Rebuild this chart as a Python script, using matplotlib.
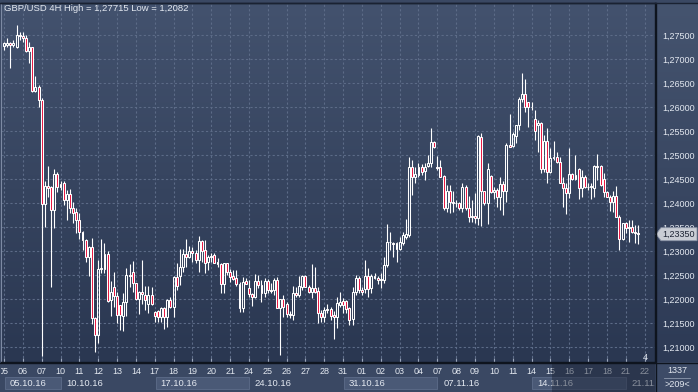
import numpy as np
import matplotlib
matplotlib.use("Agg")
import matplotlib.pyplot as plt
from matplotlib.patches import Rectangle, Polygon
from matplotlib.lines import Line2D
from matplotlib.colors import LinearSegmentedColormap
from matplotlib.transforms import blended_transform_factory

# GBP/USD 4H bars, six bars per trading day, first bar on 05.10.16
opens = [
    1.2727, 1.2729, 1.2733, 1.2729, 1.2726, 1.2750, 1.2747, 1.2743, 1.2717, 1.2724,
    1.2634, 1.2642, 1.2615, 1.2397, 1.2435, 1.2434, 1.2385, 1.2460, 1.2434, 1.2441,
    1.2406, 1.2419, 1.2389, 1.2382, 1.2365, 1.2339, 1.2323, 1.2287, 1.2308, 1.2160,
    1.2125, 1.2262, 1.2262, 1.2293, 1.2198, 1.2224, 1.2206, 1.2188, 1.2165, 1.2194,
    1.2250, 1.2257, 1.2233, 1.2199, 1.2215, 1.2208, 1.2190, 1.2208, 1.2172, 1.2174,
    1.2163, 1.2181, 1.2163, 1.2198, 1.2184, 1.2245, 1.2247, 1.2267, 1.2293, 1.2288,
    1.2299, 1.2295, 1.2281, 1.2320, 1.2302, 1.2278, 1.2288, 1.2292, 1.2278, 1.2272,
    1.2231, 1.2274, 1.2257, 1.2247, 1.2243, 1.2231, 1.2181, 1.2238, 1.2222, 1.2211,
    1.2204, 1.2238, 1.2229, 1.2212, 1.2238, 1.2219, 1.2219, 1.2240, 1.2181, 1.2200,
    1.2190, 1.2169, 1.2166, 1.2212, 1.2208, 1.2226, 1.2248, 1.2226, 1.2215, 1.2222,
    1.2216, 1.2170, 1.2163, 1.2177, 1.2179, 1.2167, 1.2162, 1.2188, 1.2195, 1.2195,
    1.2181, 1.2158, 1.2215, 1.2243, 1.2219, 1.2220, 1.2247, 1.2222, 1.2247, 1.2243,
    1.2240, 1.2240, 1.2271, 1.2318, 1.2317, 1.2317, 1.2305, 1.2317, 1.2330, 1.2333,
    1.2474, 1.2455, 1.2458, 1.2476, 1.2467, 1.2477, 1.2483, 1.2528, 1.2476, 1.2476,
    1.2456, 1.2389, 1.2424, 1.2403, 1.2401, 1.2399, 1.2389, 1.2434, 1.2389, 1.2371,
    1.2373, 1.2368, 1.2537, 1.2424, 1.2401, 1.2456, 1.2422, 1.2427, 1.2412, 1.2440,
    1.2424, 1.2521, 1.2519, 1.2540, 1.2562, 1.2616, 1.2628, 1.2611, 1.2599, 1.2576,
    1.2562, 1.2566, 1.2470, 1.2529, 1.2465, 1.2493, 1.2496, 1.2485, 1.2442, 1.2431,
    1.2420, 1.2460, 1.2451, 1.2470, 1.2431, 1.2454, 1.2434, 1.2433, 1.2431, 1.2477,
    1.2477, 1.2451, 1.2422, 1.2413, 1.2403, 1.2415, 1.2371, 1.2326, 1.2358, 1.2347,
    1.2351, 1.2340, 1.2337,
]
highs = [
    1.2736, 1.2743, 1.2736, 1.2740, 1.27715, 1.2757, 1.2757, 1.2750, 1.2736, 1.2726,
    1.2665, 1.2646, 1.2618, 1.2446, 1.2477, 1.2436, 1.2470, 1.2465, 1.2445, 1.2445,
    1.2427, 1.2430, 1.2403, 1.2389, 1.2379, 1.2341, 1.2326, 1.2310, 1.2328, 1.2163,
    1.2281, 1.2324, 1.2317, 1.2299, 1.2238, 1.2257, 1.2215, 1.2188, 1.2213, 1.2265,
    1.2273, 1.2279, 1.2234, 1.2217, 1.2281, 1.2227, 1.2227, 1.2226, 1.2176, 1.2177,
    1.2184, 1.2184, 1.2199, 1.2204, 1.2247, 1.2274, 1.2304, 1.2304, 1.2325, 1.2311,
    1.2309, 1.2302, 1.2331, 1.2323, 1.2323, 1.2292, 1.2295, 1.2296, 1.2285, 1.2274,
    1.2276, 1.2276, 1.2262, 1.2260, 1.2260, 1.2236, 1.2245, 1.2243, 1.2240, 1.2213,
    1.2252, 1.2250, 1.2240, 1.2243, 1.2241, 1.2233, 1.2243, 1.2245, 1.2201, 1.2208,
    1.2193, 1.2174, 1.2227, 1.2226, 1.2247, 1.2250, 1.2250, 1.2229, 1.2273, 1.2267,
    1.2226, 1.2177, 1.2183, 1.2190, 1.2184, 1.2176, 1.2205, 1.2215, 1.2202, 1.2198,
    1.2184, 1.2226, 1.2250, 1.2247, 1.2226, 1.2281, 1.2264, 1.2252, 1.2255, 1.2247,
    1.2254, 1.2288, 1.2356, 1.2340, 1.2319, 1.2319, 1.2330, 1.2340, 1.2366, 1.2495,
    1.2490, 1.2474, 1.2483, 1.2481, 1.2483, 1.2501, 1.2556, 1.2530, 1.2498, 1.2490,
    1.2458, 1.2438, 1.2438, 1.2424, 1.2406, 1.2403, 1.2441, 1.2438, 1.2415, 1.2406,
    1.2420, 1.2542, 1.2545, 1.2424, 1.2483, 1.2458, 1.2434, 1.2431, 1.2455, 1.2445,
    1.2525, 1.2585, 1.2547, 1.2562, 1.2620, 1.2671, 1.2658, 1.2611, 1.2611, 1.2594,
    1.2573, 1.2569, 1.2542, 1.2556, 1.2514, 1.2529, 1.2507, 1.2496, 1.2455, 1.2441,
    1.2514, 1.2462, 1.2501, 1.2472, 1.2469, 1.2458, 1.2441, 1.2441, 1.2479, 1.2503,
    1.2479, 1.2462, 1.2424, 1.2417, 1.2426, 1.2435, 1.2375, 1.2358, 1.2361, 1.2364,
    1.2364, 1.2354, 1.2354,
]
lows = [
    1.2719, 1.2726, 1.2682, 1.2726, 1.2723, 1.2740, 1.2736, 1.2715, 1.2692, 1.2632,
    1.2632, 1.2601, 1.2082, 1.2351, 1.2413, 1.2226, 1.2347, 1.2422, 1.2427, 1.2396,
    1.2365, 1.2379, 1.2358, 1.2337, 1.2326, 1.2302, 1.2278, 1.2248, 1.2148, 1.2090,
    1.2108, 1.2254, 1.2254, 1.2193, 1.2165, 1.2184, 1.2149, 1.2135, 1.2134, 1.2165,
    1.2226, 1.2215, 1.2198, 1.2169, 1.2190, 1.2177, 1.2170, 1.2188, 1.2153, 1.2153,
    1.2153, 1.2137, 1.2142, 1.2182, 1.2163, 1.2219, 1.2229, 1.2257, 1.2266, 1.2286,
    1.2278, 1.2274, 1.2257, 1.2278, 1.2254, 1.2261, 1.2278, 1.2274, 1.2267, 1.2213,
    1.2212, 1.2250, 1.2236, 1.2240, 1.2227, 1.2172, 1.2172, 1.2231, 1.2204, 1.2186,
    1.2203, 1.2222, 1.2194, 1.2204, 1.2212, 1.2212, 1.2208, 1.2181, 1.2083, 1.2163,
    1.2163, 1.2161, 1.2156, 1.2205, 1.2205, 1.2219, 1.2224, 1.2212, 1.2202, 1.2212,
    1.2149, 1.2153, 1.2153, 1.2170, 1.2156, 1.2116, 1.2139, 1.2184, 1.2170, 1.2170,
    1.2146, 1.2146, 1.2209, 1.2212, 1.2209, 1.2212, 1.2205, 1.2212, 1.2241, 1.2232,
    1.2222, 1.2233, 1.2267, 1.2302, 1.2288, 1.2278, 1.2302, 1.2312, 1.2326, 1.2330,
    1.2417, 1.2442, 1.2455, 1.2458, 1.2448, 1.2476, 1.2476, 1.2514, 1.2469, 1.2454,
    1.2385, 1.2382, 1.2380, 1.2382, 1.2392, 1.2385, 1.2382, 1.2385, 1.2361, 1.2361,
    1.2358, 1.2354, 1.2352, 1.2396, 1.2356, 1.2420, 1.2408, 1.2392, 1.2385, 1.2375,
    1.2403, 1.2516, 1.2516, 1.2525, 1.2552, 1.2611, 1.2590, 1.2559, 1.2594, 1.2531,
    1.2507, 1.2462, 1.2465, 1.2442, 1.2462, 1.2490, 1.2483, 1.2441, 1.2392, 1.2378,
    1.2410, 1.2448, 1.2448, 1.2408, 1.2413, 1.2431, 1.2427, 1.2408, 1.2412, 1.2448,
    1.2435, 1.2413, 1.2412, 1.2384, 1.2382, 1.2370, 1.2302, 1.2323, 1.2337, 1.2319,
    1.2337, 1.2316, 1.2314,
]
closes = [
    1.2733, 1.2733, 1.2729, 1.2734, 1.2750, 1.2747, 1.2743, 1.2717, 1.2724, 1.2634,
    1.2642, 1.2615, 1.2397, 1.2435, 1.2432, 1.2385, 1.2460, 1.2434, 1.2439, 1.2406,
    1.2419, 1.2389, 1.2380, 1.2365, 1.2339, 1.2323, 1.2287, 1.2308, 1.2160, 1.2125,
    1.2262, 1.2265, 1.2293, 1.2195, 1.2215, 1.2206, 1.2167, 1.2167, 1.2194, 1.2250,
    1.2247, 1.2233, 1.2199, 1.2215, 1.2210, 1.2198, 1.2208, 1.2190, 1.2165, 1.2163,
    1.2181, 1.2163, 1.2198, 1.2184, 1.2245, 1.2227, 1.2267, 1.2293, 1.2288, 1.2300,
    1.2295, 1.2281, 1.2320, 1.2299, 1.2274, 1.2288, 1.2290, 1.2276, 1.2272, 1.2231,
    1.2274, 1.2257, 1.2245, 1.2241, 1.2231, 1.2181, 1.2236, 1.2231, 1.2211, 1.2204,
    1.2238, 1.2229, 1.2212, 1.2238, 1.2219, 1.2216, 1.2240, 1.2182, 1.2199, 1.2184,
    1.2169, 1.2166, 1.2212, 1.2208, 1.2227, 1.2248, 1.2226, 1.2215, 1.2222, 1.2214,
    1.2170, 1.2163, 1.2177, 1.2179, 1.2165, 1.2162, 1.2191, 1.2193, 1.2188, 1.2179,
    1.2156, 1.2215, 1.2243, 1.2219, 1.2215, 1.2247, 1.2221, 1.2247, 1.2243, 1.2240,
    1.2241, 1.2271, 1.2318, 1.2319, 1.2314, 1.2304, 1.2318, 1.2333, 1.2335, 1.2474,
    1.2455, 1.2460, 1.2476, 1.2465, 1.2476, 1.2483, 1.2528, 1.2517, 1.2472, 1.2455,
    1.2389, 1.2424, 1.2403, 1.2401, 1.2399, 1.2389, 1.2434, 1.2389, 1.2371, 1.2373,
    1.2368, 1.2540, 1.2424, 1.2401, 1.2470, 1.2422, 1.2427, 1.2412, 1.2440, 1.2424,
    1.2521, 1.2517, 1.2544, 1.2562, 1.2616, 1.2628, 1.2601, 1.2599, 1.2601, 1.2549,
    1.2566, 1.2470, 1.2529, 1.2465, 1.2493, 1.2496, 1.2486, 1.2442, 1.2431, 1.2420,
    1.2460, 1.2451, 1.2458, 1.2431, 1.2454, 1.2434, 1.2433, 1.2435, 1.2477, 1.2476,
    1.2438, 1.2422, 1.2413, 1.2403, 1.2415, 1.2371, 1.2326, 1.2358, 1.2347, 1.2351,
    1.2340, 1.2337, 1.2335,
]

day_labels = ["05", "06", "07", "10", "11", "12", "13", "14", "17", "18", "19", "20",
              "21", "24", "25", "26", "27", "28", "31", "01", "02", "03", "04", "07",
              "08", "09", "10", "11", "14", "15", "16", "17", "18", "21", "22"]
week_labels = ["05.10.16", "10.10.16", "17.10.16", "24.10.16", "31.10.16",
               "07.11.16", "14.11.16", "21.11.16"]
week_first_day = [0, 3, 8, 13, 18, 23, 28, 33]
price_ticks = [1.210, 1.215, 1.220, 1.225, 1.230, 1.235, 1.240, 1.245,
               1.250, 1.255, 1.260, 1.265, 1.270, 1.275]
last_price = 1.2335
bars_per_day = 6
title = "GBP/USD 4H High = 1,27715 Low = 1,2082"

# colours
BG_TOP, BG_BOT = "#43526e", "#2a3751"
BAND = "#3a4863"
BOX = "#4a5976"
GRID = "#5c6b87"
TXT = "#e3e8f0"
RED = "#e8123e"
SEP = "#0e141e"

W, H = 698, 392
fig = plt.figure(figsize=(W / 100, H / 100), dpi=100)
fig.patch.set_facecolor(BAND)


def px_rect(x0, y0, x1, y1):
    # pixel box (origin top-left) -> figure fraction rect
    return [x0 / W, 1 - y1 / H, (x1 - x0) / W, (y1 - y0) / H]


def gradient(rect, top, bot):
    a = fig.add_axes(rect)
    cmap = LinearSegmentedColormap.from_list("g", [bot, top])
    a.imshow(np.linspace(1, 0, 256).reshape(-1, 1), cmap=cmap, aspect="auto",
             extent=[0, 1, 0, 1], interpolation="bilinear")
    a.set_axis_off()
    return a


plot_rect = px_rect(1, 3, 655, 362)
gradient(plot_rect, BG_TOP, BG_BOT)
gradient(px_rect(656, 3, 698, 362), "#45546f", "#2d3a55")

ax = fig.add_axes(plot_rect)
ax.set_facecolor("none")

o = np.array(opens)
h = np.array(highs)
l = np.array(lows)
c = np.array(closes)
x = np.arange(len(o))
body_lo = np.minimum(o, c)
body_hi = np.maximum(o, c)
bear = c < o

ax.vlines(x, l, body_lo, color="white", lw=0.8, zorder=3)
ax.vlines(x, body_hi, h, color="white", lw=0.8, zorder=3)
ax.bar(x, body_hi - body_lo, bottom=body_lo, width=0.62,
       color=np.where(bear, RED, "none"), edgecolor="white", linewidth=0.75, zorder=4)

x0_px, step_px = 4.0, 3.14
ax.set_xlim((1 - x0_px) / step_px, (655 - x0_px) / step_px)
ax.set_ylim(1.275 - (362 - 35) / 4800, 1.275 + (35 - 3) / 4800)

day_pos = [d * bars_per_day for d in range(len(day_labels))]
ax.set_xticks(day_pos)
ax.set_yticks(price_ticks)
ax.set_yticklabels([f"{p:.5f}".replace(".", ",") for p in price_ticks])
ax.yaxis.tick_right()
ax.tick_params(axis="y", length=0, pad=5, labelsize=6.5, labelcolor=TXT)
ax.tick_params(axis="x", direction="in", length=3, color="#9aa6bc",
               labelbottom=False)
for lab in ax.get_yticklabels():
    lab.set_fontfamily("Liberation Sans")
ax.grid(True, color=GRID, lw=0.8, ls=(0, (2, 2)), zorder=1)
for side in ["top", "right", "bottom"]:
    ax.spines[side].set_color(SEP)
    ax.spines[side].set_linewidth(1.0)
ax.spines["left"].set_color("#7d8aa3")

# current price tag
tr = blended_transform_factory(fig.transFigure, ax.transData)
hh = 6.5 / 4800
tag = Polygon([(656 / W, last_price), (661 / W, last_price + hh), (697 / W, last_price + hh),
               (697 / W, last_price - hh), (661 / W, last_price - hh)],
              closed=True, transform=tr, facecolor="#c9cdd5", edgecolor="#8b94a6",
              lw=0.6, clip_on=False, zorder=10)
ax.add_patch(tag)
ax.text(662 / W, last_price, f"{last_price:.5f}".replace(".", ","), transform=tr,
        ha="left", va="center", fontsize=6.5, color="#1c2333",
        family="Liberation Sans", clip_on=False, zorder=11)

fig.text(4 / W, 1 - 8.5 / H, title, ha="left", va="center", fontsize=6.8,
         color=TXT, family="Liberation Sans")
fig.text(645 / W, 1 - 357 / H, "4", ha="center", va="center", fontsize=6.5,
         color=TXT, family="Liberation Sans")

# date band under the chart
band = fig.add_axes(px_rect(1, 363, 655, 392))
band.set_facecolor(BAND)
band.set_xlim(ax.get_xlim())
band.set_ylim(0, 1)
band.set_axis_off()
for d, lab in zip(day_pos, day_labels):
    band.text(d, 0.72, lab, ha="center", va="center", fontsize=6.5, color=TXT,
              family="Liberation Sans", clip_on=True)
week_edges = [w * bars_per_day for w in week_first_day] + [len(day_labels) * bars_per_day]
for k, lab in enumerate(week_labels):
    xa, xb = week_edges[k] + 0.3, week_edges[k + 1]
    if k % 2 == 0:
        band.add_patch(Rectangle((xa, 0.1), xb - xa, 0.42, facecolor=BOX,
                                 edgecolor="#5d6c89", lw=0.6))
    band.text(xa + 1.6, 0.31, lab, ha="left", va="center", fontsize=6.8, color=TXT,
              family="Liberation Sans", clip_on=True)
shade_x = (552 - x0_px) / step_px
band.add_patch(Rectangle((shade_x, 0), ax.get_xlim()[1] - shade_x, 1,
                         facecolor="#1a2234", alpha=0.45, lw=0, zorder=5))

# bottom-right counter box
corner = fig.add_axes(px_rect(656, 363, 698, 392))
corner.set_facecolor(BAND)
corner.set_xlim(0, 1)
corner.set_ylim(0, 1)
corner.set_axis_off()
corner.add_patch(Rectangle((0, 0), 1, 1, facecolor="#3d4b67", lw=0))
corner.plot([0.2, 0.8], [0.5, 0.5], color="#8d98ad", lw=0.6)
corner.text(0.5, 0.74, "1337", ha="center", va="center", fontsize=6.5, color=TXT,
            family="Liberation Sans")
corner.text(0.5, 0.27, ">209<", ha="center", va="center", fontsize=6.5, color=TXT,
            family="Liberation Sans")

# separators
fig.add_artist(Line2D([655.5 / W, 655.5 / W], [0, 1 - 3 / H], color=SEP, lw=1.0))
fig.add_artist(Line2D([0, 1], [1 - 362.5 / H, 1 - 362.5 / H], color=SEP, lw=1.0))
fig.add_artist(Line2D([0, 1], [1 - 2.5 / H, 1 - 2.5 / H], color="#1a2232", lw=1.0))

fig.savefig("out.png", dpi=100, facecolor=fig.get_facecolor())
